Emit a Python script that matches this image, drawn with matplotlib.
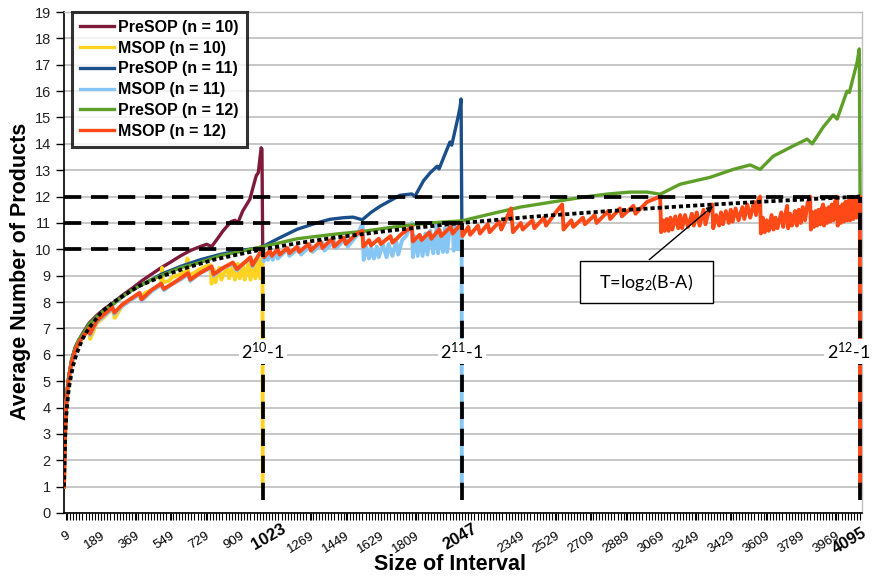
import numpy as np
import matplotlib.pyplot as plt
from matplotlib.patches import Rectangle
from matplotlib.ticker import MultipleLocator
import matplotlib.transforms as mtransforms

plt.rcParams['font.family'] = ['Liberation Sans', 'DejaVu Sans']
plt.rcParams['mathtext.fontset'] = 'custom'
plt.rcParams['mathtext.rm'] = 'Lato'
plt.rcParams['mathtext.default'] = 'regular'

# ---- data ----
presop10_x = [1, 3, 5, 8, 12, 18, 26, 40, 60, 80, 100, 130, 170, 210, 250, 300, 357, 400, 460, 500,
              546, 600, 650, 700, 735, 760, 790, 819, 860, 880, 895, 920, 957, 975, 990, 1000, 1008,
              1015, 1019, 1023]
presop10_y = [1.0, 1.95, 2.65, 3.35, 4.05, 4.7, 5.2, 5.8, 6.3, 6.6, 6.85, 7.2, 7.5, 7.75, 7.95, 8.25, 8.55,
              8.8, 9.1, 9.3, 9.5, 9.75, 9.95, 10.1, 10.19, 10.1, 10.4, 10.7, 11.05, 11.1, 11.0, 11.45,
              11.9, 12.4, 12.8, 12.9, 13.4, 13.85, 13.8, 10.0]

msop10_x = [1, 3, 5, 8, 12, 18, 26, 40, 60, 80, 100, 128, 135, 170, 210, 250, 262, 300, 350, 385, 392,
            420, 450, 500, 505, 510, 540, 560, 600, 632, 636, 640, 670, 700, 730, 755, 760, 770, 780,
            800, 810, 840, 850, 870, 880, 895, 905, 920, 930, 950, 960, 975, 985, 1000, 1010, 1022, 1023]
msop10_y = [1.0, 1.9, 2.6, 3.3, 4.0, 4.6, 5.1, 5.65, 6.15, 6.45, 6.7, 6.95, 6.6, 7.2, 7.45, 7.75, 7.4,
            7.85, 8.1, 8.3, 8.15, 8.35, 8.45, 8.65, 9.3, 8.75, 8.8, 8.95, 9.05, 9.2, 9.65, 9.0, 9.1,
            9.25, 9.35, 9.4, 8.7, 9.25, 8.75, 9.3, 8.85, 9.35, 8.9, 9.4, 8.85, 9.45, 8.9, 9.45, 8.85,
            9.5, 8.85, 9.5, 8.9, 9.6, 8.9, 9.7, 1.0]

presop11_x = [1, 3, 5, 8, 12, 18, 26, 40, 60, 80, 100, 130, 170, 210, 250, 300, 350, 400, 450, 500,
              600, 700, 800, 900, 1000, 1023, 1100, 1200, 1300, 1370, 1440, 1488, 1535, 1580, 1626,
              1680, 1729, 1790, 1805, 1850, 1884, 1920, 1930, 1960, 1986, 1995, 2015, 2030, 2038,
              2043, 2047]
presop11_y = [1.0, 1.95, 2.65, 3.35, 4.05, 4.7, 5.2, 5.8, 6.3, 6.6, 6.8, 7.15, 7.45, 7.7, 7.9, 8.2,
              8.45, 8.65, 8.85, 9.05, 9.35, 9.6, 9.8, 9.95, 10.05, 10.1, 10.4, 10.76, 11.0, 11.14, 11.2,
              11.22, 11.12, 11.4, 11.63, 11.85, 12.05, 12.1, 12.0, 12.6, 12.9, 13.15, 13.05, 13.6,
              14.07, 13.95, 14.6, 15.1, 15.4, 15.7, 11.0]

msop11_x = [1, 3, 5, 8, 12, 18, 26, 40, 60, 80, 100, 130, 135, 170, 210, 250, 260, 300, 350, 390, 400,
            450, 500, 515, 560, 600, 640, 650, 700, 760, 770, 820, 870, 890, 930, 960, 970, 1000, 1023,
            1028, 1040, 1050, 1060, 1075, 1090, 1100, 1150, 1160, 1210, 1220, 1270, 1280, 1330, 1340,
            1390, 1400, 1450, 1460, 1510, 1537, 1542, 1555, 1570, 1580, 1595, 1610, 1620, 1640, 1660,
            1670, 1690, 1710, 1720, 1740, 1760, 1790, 1795, 1805, 1820, 1830, 1845, 1860, 1870, 1885,
            1900, 1920, 1925, 1935, 1950, 1960, 1972, 1985, 2000, 2005, 2015, 2025, 2035, 2041, 2046,
            2047]
msop11_y = [1.0, 1.9, 2.6, 3.3, 4.0, 4.6, 5.1, 5.65, 6.15, 6.45, 6.7, 6.95, 6.75, 7.25, 7.5, 7.75,
            7.55, 7.85, 8.1, 8.3, 8.05, 8.4, 8.65, 8.45, 8.7, 8.85, 9.05, 8.8, 9.1, 9.3, 9.0, 9.3, 9.45,
            9.2, 9.5, 9.65, 9.35, 9.75, 10.0,
            9.55, 9.85, 9.6, 9.9, 9.6, 9.95, 9.65, 10.0, 9.75, 10.05, 9.8, 10.15, 9.9, 10.25, 9.95,
            10.3, 10.05, 10.4, 10.1, 10.55, 11.0, 9.6, 10.1, 9.65, 10.05, 9.65, 10.1, 9.7, 10.2, 9.7,
            10.2, 9.75, 10.3, 9.8, 10.35, 10.5, 11.0, 9.7, 10.5, 9.75, 10.55, 9.75, 10.6, 9.8, 10.7,
            9.85, 11.0, 9.85, 10.7, 9.9, 10.8, 9.9, 10.85, 11.0, 9.95, 10.85, 10.0, 10.9, 10.0, 11.0,
            1.0]

presop12_x = [1, 3, 5, 8, 12, 18, 26, 40, 60, 80, 100, 130, 170, 210, 250, 300, 350, 400, 450, 500,
              600, 700, 800, 900, 1023, 1200, 1400, 1539, 1700, 1884, 2047, 2200, 2347, 2516, 2692,
              2800, 2913, 3000, 3067, 3170, 3324, 3442, 3530, 3581, 3648, 3751, 3823, 3849, 3905,
              3957, 3977, 4028, 4040, 4080, 4091, 4095]
presop12_y = [1.0, 1.95, 2.65, 3.35, 4.05, 4.7, 5.2, 5.8, 6.3, 6.6, 6.8, 7.15, 7.45, 7.7, 7.9, 8.2,
              8.45, 8.65, 8.85, 9.0, 9.3, 9.5, 9.75, 9.9, 10.1, 10.4, 10.58, 10.68, 10.85, 11.0, 11.08,
              11.35, 11.6, 11.8, 12.0, 12.1, 12.17, 12.17, 12.09, 12.47, 12.73, 13.03, 13.2, 13.03,
              13.53, 13.92, 14.18, 14.0, 14.63, 15.1, 14.94, 16.0, 15.95, 17.1, 17.6, 12.0]

msop12_x = [1, 3, 5, 8, 12, 18, 26, 40, 60, 80, 100, 130, 135, 170, 210, 250, 260, 300, 350, 390, 400,
            450, 500, 515, 560, 600, 640, 650, 700, 760, 770, 820, 870, 890, 930, 960, 970, 1000, 1023,
            1030, 1060, 1070, 1100, 1110, 1150, 1160, 1200, 1210, 1260, 1270, 1320, 1330, 1380, 1390,
            1440, 1450, 1500, 1535, 1540, 1570, 1580, 1620, 1630, 1680, 1690, 1740, 1790, 1795, 1830,
            1840, 1880, 1890, 1930, 1940, 1990, 2000, 2047,
            2050, 2080, 2090, 2130, 2140, 2180, 2190, 2240, 2250, 2300, 2310, 2350, 2360, 2410, 2420,
            2470, 2480, 2530, 2563, 2570, 2610, 2620, 2670, 2680, 2730, 2740, 2800, 2810, 2860, 2870,
            2930, 2940, 3000, 3067, 3072,
            3080, 3090, 3100, 3110, 3120, 3130, 3145, 3160, 3170, 3180, 3195, 3210, 3230, 3240, 3255,
            3270, 3290, 3300, 3320, 3335, 3340, 3355, 3370, 3380, 3390, 3405, 3420, 3430, 3440, 3455,
            3470, 3490, 3500, 3515, 3530, 3550, 3560, 3570, 3581, 3585,
            3595, 3605, 3615, 3625, 3640, 3650, 3660, 3670, 3690, 3700, 3710, 3720, 3725, 3735, 3745,
            3760, 3770, 3780, 3790, 3800, 3812, 3825, 3838, 3842,
            3850, 3858, 3866, 3874, 3882, 3890, 3898, 3905, 3910, 3918, 3926, 3934, 3942, 3950, 3958,
            3966, 3977, 3980,
            3988, 3996, 4004, 4012, 4020, 4028, 4036, 4044, 4052, 4060, 4068, 4076, 4084, 4090, 4094,
            4095]
msop12_y = [1.0, 1.9, 2.6, 3.3, 4.0, 4.6, 5.1, 5.7, 6.2, 6.5, 6.7, 7.0, 6.8, 7.3, 7.55, 7.8, 7.6,
            7.9, 8.15, 8.35, 8.1, 8.45, 8.7, 8.5, 8.7, 8.9, 9.1, 8.85, 9.1, 9.35, 9.05, 9.3, 9.5, 9.25,
            9.5, 9.7, 9.4, 9.75, 10.0,
            9.7, 9.95, 9.75, 10.0, 9.8, 10.05, 9.85, 10.1, 9.9, 10.2, 9.95, 10.3, 10.05, 10.4, 10.1,
            10.45, 10.2, 10.55, 10.7, 10.1, 10.35, 10.15, 10.4, 10.2, 10.5, 10.25, 10.6, 10.85, 10.3,
            10.55, 10.35, 10.65, 10.4, 10.75, 10.5, 10.85, 10.6, 11.0,
            10.5, 10.85, 10.55, 10.9, 10.6, 10.95, 10.65, 11.05, 10.75, 11.55, 10.65, 11.0, 10.75,
            11.1, 10.8, 11.2, 10.9, 11.4, 11.7, 10.75, 11.1, 10.85, 11.2, 10.95, 11.3, 11.0, 11.45,
            11.15, 11.55, 11.25, 11.65, 11.35, 11.8, 12.0, 10.65,
            11.1, 10.7, 11.15, 10.7, 11.2, 10.75, 11.25, 10.8, 11.3, 10.8, 11.3, 10.85, 11.35, 10.9,
            11.4, 10.9, 11.5, 10.95, 11.55, 11.7, 10.8, 11.3, 10.9, 11.4, 10.95, 11.45, 11.0, 11.5,
            11.05, 11.55, 11.1, 11.6, 11.15, 11.7, 11.2, 11.8, 11.3, 11.85, 12.0, 10.6,
            11.2, 10.65, 11.1, 10.7, 11.3, 10.75, 11.2, 10.8, 11.4, 10.85, 11.3, 11.65, 10.8, 11.35,
            10.9, 11.45, 10.9, 11.5, 11.0, 11.6, 11.1, 11.75, 12.0, 10.75,
            11.4, 10.85, 11.45, 10.9, 11.5, 10.95, 11.55, 11.7, 10.9, 11.55, 11.0, 11.6, 11.05, 11.7,
            11.1, 11.8, 12.0, 10.9,
            11.6, 11.0, 11.7, 11.05, 11.8, 11.1, 11.85, 11.1, 11.9, 11.15, 11.95, 11.2, 12.0, 11.3,
            12.0, 1.0]

# T = log2(B-A) reference curve
log_x = [1, 3, 5, 8, 12, 16, 24, 32, 48, 64, 96, 128, 192, 256, 384, 512, 640, 768, 900, 1023,
         1200, 1400, 1700, 2047, 2400, 2800, 3200, 3600, 4095]
log_y = [1.0, 1.6, 2.3, 3.0, 3.6, 4.0, 4.6, 5.0, 5.6, 6.0, 6.6, 7.0, 7.6, 8.0, 8.6, 9.0, 9.32, 9.6,
         9.81, 10.0, 10.23, 10.45, 10.73, 11.0, 11.23, 11.45, 11.64, 11.81, 12.0]

thresholds = [10, 11, 12]
bounds = [1023, 2047, 4095]
bound_labels = [r'$2^{10}$-1', r'$2^{11}$-1', r'$2^{12}$-1']
guide_bottom = 0.5

tick_vals = [9, 189, 369, 549, 729, 909, 1269, 1449, 1629, 1809, 2349, 2529, 2709, 2889, 3069,
             3249, 3429, 3609, 3789, 3969]

series = [
    ('PreSOP (n = 10)', presop10_x, presop10_y, '#7E1A3A', 2.4),
    ('MSOP (n = 10)', msop10_x, msop10_y, '#FFD320', 2.8),
    ('PreSOP (n = 11)', presop11_x, presop11_y, '#1B4F8A', 2.4),
    ('MSOP (n = 11)', msop11_x, msop11_y, '#86C6F4', 2.8),
    ('PreSOP (n = 12)', presop12_x, presop12_y, '#5E9F28', 2.4),
    ('MSOP (n = 12)', msop12_x, msop12_y, '#FF4A17', 2.8),
]

fig = plt.figure(figsize=(8.72, 5.79), dpi=100)
ax = fig.add_axes([64 / 872, 1 - 513 / 579, (862 - 64) / 872, (513 - 12) / 579])

for name, xs, ys, col, lw in series:
    ax.plot(xs, ys, color=col, lw=lw, label=name, zorder=3)

# dashed guide lines at n and 2^n - 1
for t, b in zip(thresholds, bounds):
    ax.plot([1, b], [t, t], color='black', lw=2.7, linestyle=(0, (4.6, 2.6)), zorder=5)
    ax.plot([b, b], [guide_bottom, t], color='black', lw=2.7, linestyle=(0, (4.6, 2.6)), zorder=5)

ax.plot(log_x, log_y, color='black', lw=2.7, linestyle=(0, (1.1, 0.8)), zorder=6)

for b, lab, xo in zip(bounds, bound_labels, [0, 0, -60]):
    ax.text(b + xo, 6.12, lab, fontsize=13, family='Lato', ha='center', va='center', zorder=7,
            bbox=dict(facecolor='white', edgecolor='none', pad=1.5))

# annotation box
ax.add_patch(Rectangle((2655, 7.98), 684, 1.56, facecolor='white', edgecolor='black', lw=1.0, zorder=7))
ax.text(2997, 8.76, r'T=log$_2$(B-A)', fontsize=13, family='Lato', ha='center', va='center', zorder=8)
ax.annotate('', xy=(3350, 11.71), xytext=(3000, 9.54),
            arrowprops=dict(arrowstyle='-|>', color='black', lw=1.0, mutation_scale=9), zorder=8)

ax.set_xlim(1, 4105)
ax.set_ylim(0, 19)
ax.set_yticks(range(0, 20))
ax.yaxis.grid(True, color='#BEBEBE', lw=1.2)
ax.set_axisbelow(True)

ax.set_xticks(tick_vals)
ax.set_xticklabels([str(v) for v in tick_vals], fontsize=9.5)
for lab in ax.get_xticklabels():
    lab.set_rotation(32)
    lab.set_ha('right')
    lab.set_rotation_mode('anchor')
ax.xaxis.set_minor_locator(MultipleLocator(16))
ax.tick_params(axis='x', which='both', direction='out', length=5, width=0.8, pad=7)
ax.tick_params(axis='y', direction='out', length=6, width=1, labelsize=10.5, labelcolor='#222222')

trans = mtransforms.blended_transform_factory(ax.transData, ax.transAxes)
for b, xo, yo in zip(bounds, [30, -10, -55], [-0.048, -0.048, -0.056]):
    ax.text(b + xo, yo, str(b), transform=trans, fontsize=12, fontweight='bold', rotation=30,
            ha='center', va='center', rotation_mode='anchor')

for s in ['left', 'bottom']:
    ax.spines[s].set_color('black')
    ax.spines[s].set_linewidth(1.2)
for s in ['top', 'right']:
    ax.spines[s].set_color('#BFBFBF')
    ax.spines[s].set_linewidth(1.0)

fig.text(450 / 872, 1 - 565 / 579, 'Size of Interval', fontsize=15.5, fontweight='bold',
         ha='center', va='center')
fig.text(21 / 872, 1 - 271 / 579, 'Average Number of Products', fontsize=15.5, fontweight='bold',
         ha='center', va='center', rotation=90)

leg = ax.legend(loc='upper left', bbox_to_anchor=(0.01, 1.0),
                prop={'weight': 'bold', 'size': 11.5}, frameon=True, fancybox=False,
                borderpad=0.5, handlelength=2.1, handletextpad=0.3, labelspacing=0.36,
                borderaxespad=0.0)
leg.get_frame().set_edgecolor('black')
leg.get_frame().set_linewidth(2.2)
leg.set_zorder(10)
for ln in leg.get_lines():
    ln.set_linewidth(2.4)

fig.savefig('out.png', dpi=100, facecolor='white')
